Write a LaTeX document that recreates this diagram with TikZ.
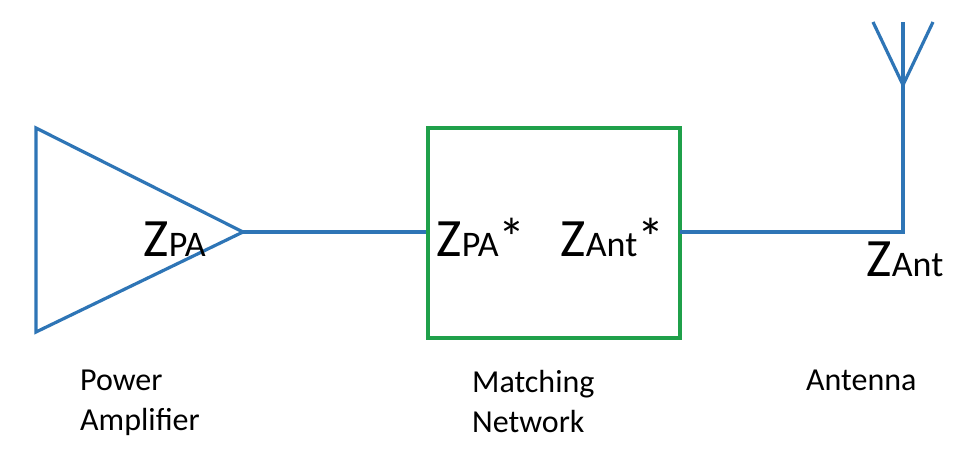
\documentclass[tikz,border=0pt]{standalone}
\usepackage{fontspec}
\setmainfont{Carlito}
\begin{document}
\begin{tikzpicture}[x=1pt,y=-1pt,
  wire/.style={line width=3.2pt, color={rgb,255:red,46;green,117;blue,182}},
  big/.style={inner sep=0pt, anchor=base west, font=\fontsize{54}{54}\selectfont},
  sub/.style={inner sep=0pt, anchor=base west, font=\fontsize{36}{36}\selectfont},
  lab/.style={inner sep=0pt, anchor=north west, align=left, font=\fontsize{32}{40}\selectfont}]
\useasboundingbox (0,0) rectangle (978,458);
\fill[white] (0,0) rectangle (978,458);
\coordinate (t1) at (36,128); \coordinate (t2) at (36,332); \coordinate (pa) at (243,232);
\coordinate (bin) at (428,232); \coordinate (bout) at (680,232);
\coordinate (ant) at (903,232); \coordinate (stem) at (903,85);
\coordinate (al) at (873,22); \coordinate (ac) at (903,22); \coordinate (ar) at (933,22);
\draw[wire, line join=miter] (t1) -- (pa) -- (t2) -- cycle;
\draw[wire] (pa) -- (bin);
\node[draw={rgb,255:red,31;green,160;blue,74}, line width=3.4pt, minimum width=252pt, minimum height=210pt, inner sep=0pt] (box) at (554,233) {};
\draw[wire] (bout) -- (ant) -- (stem);
\draw[wire] (al) -- (stem) -- (ar);
\draw[wire] (stem) -- (ac);
\node[big] (z1) at (143,256) {Z};
\node[sub] (s1) at (z1.base east) {PA};
\node[big] (z2) at (436,256) {Z};
\node[sub] (s2) at (z2.base east) {PA\fontsize{54}{54}\selectfont *};
\node[big] (z3) at (560,256) {Z};
\node[sub] (s3) at (z3.base east) {Ant\fontsize{54}{54}\selectfont *};
\node[big] (z4) at (866,276) {Z};
\node[sub] (s4) at (z4.base east) {Ant};
\node[lab] (l1) at (80,370) {Power\\Amplifier};
\node[lab] (l2) at (472,370) {Matching\\Network};
\node[lab] (l3) at (806,370) {Antenna};
\end{tikzpicture}
\end{document}
